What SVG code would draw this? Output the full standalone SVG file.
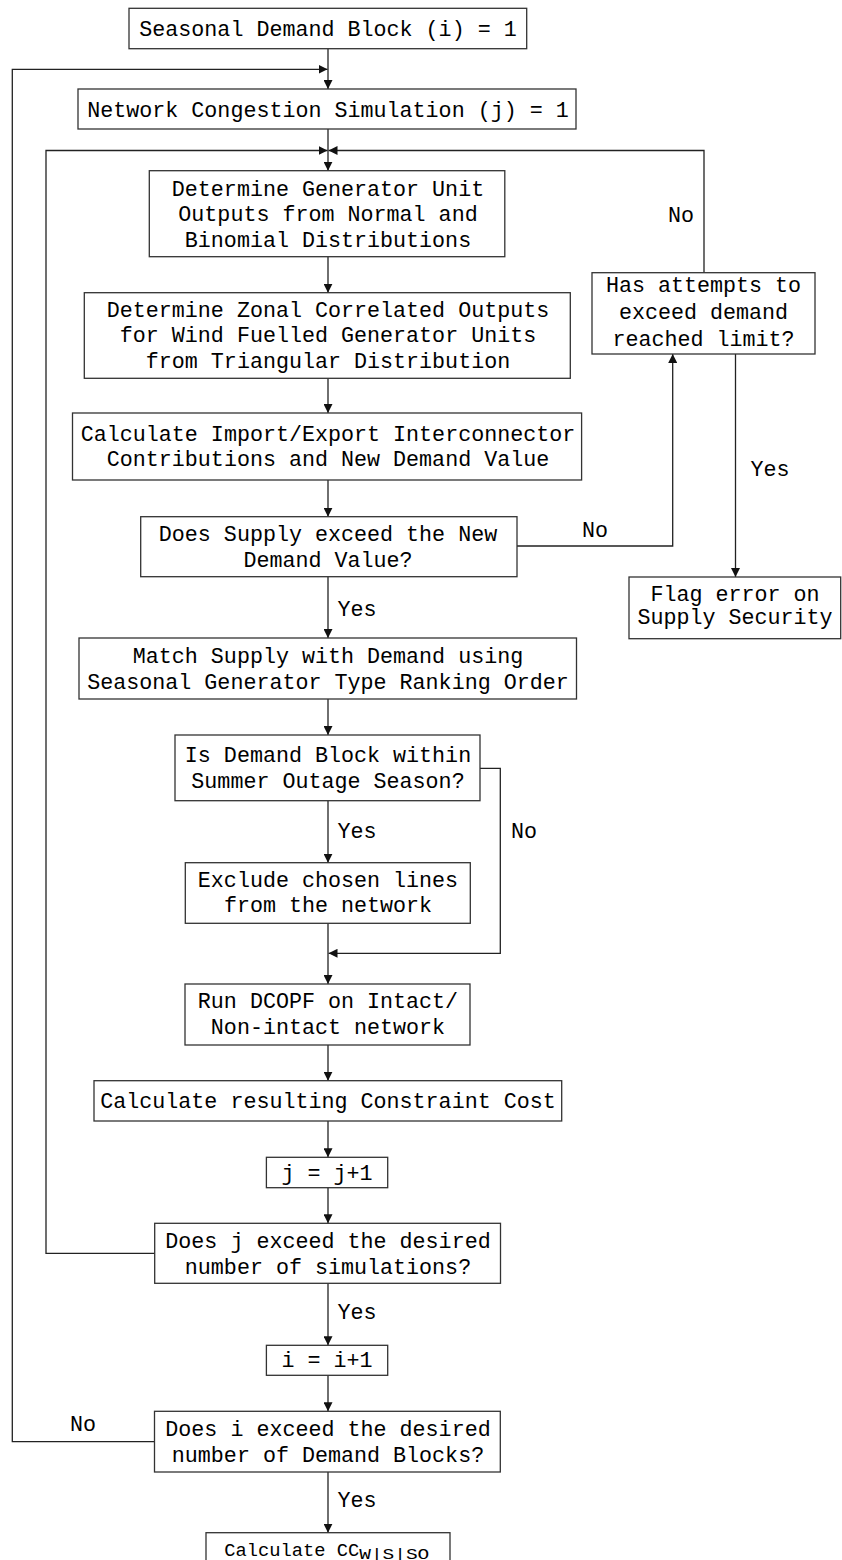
<svg xmlns="http://www.w3.org/2000/svg" width="842" height="1560" viewBox="0 0 842 1560">
  <style>
    .box { fill: #ffffff; stroke: #333333; stroke-width: 1.3; }
    .lbl { font-family: "Liberation Mono", "DejaVu Sans Mono", monospace; font-size: 21.7px; fill: #000000; text-anchor: middle; }
    .tag { font-family: "Liberation Mono", "DejaVu Sans Mono", monospace; font-size: 21.7px; fill: #000000; text-anchor: middle; }
    .wire { fill: none; stroke: #222222; stroke-width: 1.3; }
    .arr { marker-end: url(#head); }
  </style>
  <defs>
    <marker id="head" viewBox="0 0 10 10" refX="10" refY="5" markerWidth="9" markerHeight="9" markerUnits="userSpaceOnUse" orient="auto">
      <path d="M0,0 L10,5 L0,10 z" fill="#111111"/>
    </marker>
  </defs>
  <rect width="842" height="1560" fill="#ffffff"/>

  <!-- connectors -->
  <g id="connectors">
    <path class="wire arr" d="M328,48.7 V89"/>
    <path class="wire arr" d="M154.5,1441.7 H12.3 V69.3 H327.5"/>
    <path class="wire arr" d="M328,129 V170.7"/>
    <path class="wire arr" d="M154.7,1253.3 H46 V150.5 H327.5"/>
    <path class="wire arr" d="M704,272.7 V150.5 H328.5"/>
    <path class="wire arr" d="M328,256.7 V292.7"/>
    <path class="wire arr" d="M328,378.3 V413"/>
    <path class="wire arr" d="M328,480 V516.7"/>
    <path class="wire arr" d="M328,576.7 V638"/>
    <path class="wire arr" d="M517,546 H672.7 V354"/>
    <path class="wire arr" d="M735.5,354 V577"/>
    <path class="wire arr" d="M328,699 V735"/>
    <path class="wire arr" d="M328,800.7 V862.7"/>
    <path class="wire arr" d="M480,768.3 H500.3 V953.3 H328.5"/>
    <path class="wire arr" d="M328,923.3 V984"/>
    <path class="wire arr" d="M328,1045 V1080.7"/>
    <path class="wire arr" d="M328,1121 V1157.3"/>
    <path class="wire arr" d="M328,1187.7 V1223.3"/>
    <path class="wire arr" d="M328,1283.3 V1345.3"/>
    <path class="wire arr" d="M328,1375.3 V1411.3"/>
    <path class="wire arr" d="M328,1472 V1532.7"/>
    <text class="tag" x="357" y="615.5">Yes</text>
    <text class="tag" x="595" y="536.5">No</text>
    <text class="tag" x="681" y="221.5">No</text>
    <text class="tag" x="770" y="475.5">Yes</text>
    <text class="tag" x="357" y="838">Yes</text>
    <text class="tag" x="524" y="838">No</text>
    <text class="tag" x="357" y="1319">Yes</text>
    <text class="tag" x="83" y="1430.5">No</text>
    <text class="tag" x="357" y="1507.3">Yes</text>
  </g>

  <g id="block-init">
    <rect class="box" x="129" y="8.3" width="397.7" height="40.4"/>
    <text class="lbl" x="328" y="36">Seasonal Demand Block (i) = 1</text>
  </g>
  <g id="sim-init">
    <rect class="box" x="78" y="89" width="498" height="40"/>
    <text class="lbl" x="328" y="116.5">Network Congestion Simulation (j) = 1</text>
  </g>
  <g id="gen-outputs">
    <rect class="box" x="149.3" y="170.7" width="355.5" height="86"/>
    <text class="lbl" x="328" y="195.5">Determine Generator Unit</text>
    <text class="lbl" x="328" y="221">Outputs from Normal and</text>
    <text class="lbl" x="328" y="246.5">Binomial Distributions</text>
  </g>
  <g id="wind-outputs">
    <rect class="box" x="84.3" y="292.7" width="486" height="85.6"/>
    <text class="lbl" x="328" y="316.5">Determine Zonal Correlated Outputs</text>
    <text class="lbl" x="328" y="342.2">for Wind Fuelled Generator Units</text>
    <text class="lbl" x="328" y="368">from Triangular Distribution</text>
  </g>
  <g id="interconnector">
    <rect class="box" x="72.5" y="413" width="509.1" height="67"/>
    <text class="lbl" x="328" y="440.5">Calculate Import/Export Interconnector</text>
    <text class="lbl" x="328" y="466">Contributions and New Demand Value</text>
  </g>
  <g id="supply-check">
    <rect class="box" x="140.7" y="516.7" width="376.3" height="60"/>
    <text class="lbl" x="328" y="541">Does Supply exceed the New</text>
    <text class="lbl" x="328" y="566.5">Demand Value?</text>
  </g>
  <g id="attempts-check">
    <rect class="box" x="592" y="272.7" width="223" height="81.3"/>
    <text class="lbl" x="703.5" y="292.3">Has attempts to</text>
    <text class="lbl" x="703.5" y="319">exceed demand</text>
    <text class="lbl" x="703.5" y="346">reached limit?</text>
  </g>
  <g id="flag-error">
    <rect class="box" x="629" y="577" width="211.7" height="61.7"/>
    <text class="lbl" x="735" y="600.5">Flag error on</text>
    <text class="lbl" x="735" y="624">Supply Security</text>
  </g>
  <g id="match-supply">
    <rect class="box" x="79" y="638" width="497.5" height="61"/>
    <text class="lbl" x="328" y="662.5">Match Supply with Demand using</text>
    <text class="lbl" x="328" y="689">Seasonal Generator Type Ranking Order</text>
  </g>
  <g id="outage-check">
    <rect class="box" x="175" y="735" width="305" height="65.7"/>
    <text class="lbl" x="328" y="762.3">Is Demand Block within</text>
    <text class="lbl" x="328" y="787.7">Summer Outage Season?</text>
  </g>
  <g id="exclude-lines">
    <rect class="box" x="185.3" y="862.7" width="285" height="60.6"/>
    <text class="lbl" x="328" y="886.7">Exclude chosen lines</text>
    <text class="lbl" x="328" y="911.7">from the network</text>
  </g>
  <g id="run-dcopf">
    <rect class="box" x="185" y="984" width="285" height="61"/>
    <text class="lbl" x="328" y="1008">Run DCOPF on Intact/</text>
    <text class="lbl" x="328" y="1033.5">Non-intact network</text>
  </g>
  <g id="constraint-cost">
    <rect class="box" x="94" y="1080.7" width="467.7" height="40.3"/>
    <text class="lbl" x="328" y="1108">Calculate resulting Constraint Cost</text>
  </g>
  <g id="j-increment">
    <rect class="box" x="266.4" y="1157.3" width="121.3" height="30.4"/>
    <text class="lbl" x="327" y="1179.5">j = j+1</text>
  </g>
  <g id="j-check">
    <rect class="box" x="154.7" y="1223.3" width="345.8" height="60"/>
    <text class="lbl" x="328" y="1248">Does j exceed the desired</text>
    <text class="lbl" x="328" y="1274">number of simulations?</text>
  </g>
  <g id="i-increment">
    <rect class="box" x="266.4" y="1345.3" width="121.3" height="30"/>
    <text class="lbl" x="327" y="1367">i = i+1</text>
  </g>
  <g id="i-check">
    <rect class="box" x="154.5" y="1411.3" width="345.8" height="60.7"/>
    <text class="lbl" x="328" y="1435.7">Does i exceed the desired</text>
    <text class="lbl" x="328" y="1461.7">number of Demand Blocks?</text>
  </g>
  <g id="final-cost">
    <rect class="box" x="206" y="1532.7" width="244" height="45"/>
    <text x="224.3" y="1555.7" font-family="Liberation Mono, DejaVu Sans Mono, monospace" font-size="18.75" fill="#000000">Calculate CC</text>
    <text x="359.3" y="1559" font-family="Liberation Mono, DejaVu Sans Mono, monospace" font-size="14" fill="#000000" textLength="70" lengthAdjust="spacingAndGlyphs">W|S|SO</text>
  </g>
</svg>
